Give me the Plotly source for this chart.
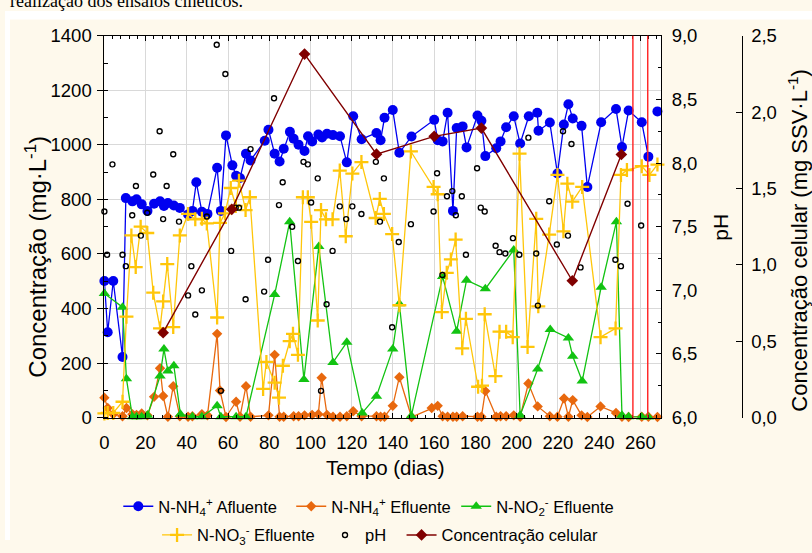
import plotly.graph_objects as go

# ---------------- data ----------------
dias_nh4_af = [0, 1.6, 4.3, 8.8, 10.4, 13.6, 15.6, 18.1, 20.9, 24.1, 27.0, 28.9, 30.8, 33.7, 36.6,
               40.6, 42.7, 44.6, 47.3, 50.0, 54.7, 56.5, 59.0, 62.1, 63.9, 65.8, 68.7, 70.9, 77.8,
               79.6, 82.6, 85.0, 87.0, 90.0, 91.8, 94.2, 97.1, 98.8, 100.8, 103.8, 105.6, 108.0,
               110.9, 114.3, 117.6, 120.7, 124.8, 132.0, 134.0, 135.9, 139.9, 143.1, 149.0, 160.0,
               161.7, 164.1, 166.5, 169.1, 170.9, 173.8, 175.7, 181.0, 182.9, 184.8, 190.1, 192.2,
               194.9, 198.6, 201.7, 205.9, 210.0, 210.6, 216.1, 219.8, 222.9, 225.1, 227.2, 231.5,
               234.3, 241.0, 248.2, 251.1, 254.3, 260.7, 263.9, 266.0, 268.3]
nh4_afluente = [501, 313, 501, 222, 805, 793, 801, 782, 758, 784, 793, 776, 787, 778, 769,
                745, 758, 863, 755, 747, 916, 758, 1035, 925, 887, 879, 968, 943, 1015,
                1056, 968, 939, 986, 1048, 1023, 1001, 978, 1032, 1013, 1038, 1027, 1041,
                1036, 1032, 936, 1105, 1021, 1044, 1017, 1100, 1128, 971, 1031, 1092,
                1017, 1013, 1118, 758, 1062, 1068, 991, 1108, 1089, 959, 988, 1013,
                1065, 1105, 1005, 1105, 1118, 1052, 1082, 895, 1075, 1149, 1097, 1070,
                846, 1083, 1132, 992, 1126, 1083, 957, None, 1123]

dias_nh4_ef = [0, 1.6, 4.3, 8.8, 10.7, 13.6, 15.6, 18.1, 20.9, 24.1, 27.0, 28.5, 30.8, 33.4, 36.6,
               40.6, 42.7, 47.3, 50.0, 54.7, 56.1, 59.0, 63.9, 65.8, 68.7, 70.9, 79.6, 82.6, 85.0,
               87.0, 91.8, 94.2, 97.1, 100.8, 103.8, 105.4, 108.0, 110.9, 114.3, 117.6, 120.7,
               124.8, 132.0, 134.0, 135.9, 139.9, 143.1, 149.0, 158.8, 161.7, 164.1, 166.5, 169.1,
               170.9, 173.8, 181.0, 182.9, 184.8, 190.1, 192.2, 194.9, 198.6, 201.7, 205.7, 210.2,
               216.1, 219.8, 223.0, 225.1, 227.2, 231.5, 234.3, 240.7, 248.2, 251.1, 254.3, 260.7,
               263.9, 268.3]
nh4_efluente = [73, 35, 12, 5, 35, 12, 10, 15, 8, 76, 181, 79, 3, 115, 5,
                3, 5, 12, 8, 307, 99, 2, 58, 3, 115, 3, 8, 230, 3,
                3, 5, 5, 8, 10, 12, 146, 10, 3, 3, 5, 23,
                5, 5, 3, 3, 43, 148, 2, 35, 43, 5, 3, 3,
                3, 5, 3, 3, 97, 3, 5, 5, 8, 3, 125, 41,
                5, 3, 70, 3, 64, 8, 2, 41, 17, 3, 2, 3,
                3, 2]

dias_no2 = [0, 8.8, 10.7, 13.6, 15.6, 18.1, 20.9, 27.0, 28.9, 30.8, 33.7, 36.9, 42.7, 47.3, 54.7,
            56.5, 63.9, 68.7, 82.6, 89.9, 96.8, 104.0, 110.9, 117.6, 125.1, 132.0, 139.9, 143.1,
            148.9, 164.1, 170.9, 175.7, 184.8, 198.6, 201.7, 210.2, 216.3, 225.1, 227.2, 231.8,
            241.0, 248.4, 251.1, 254.3, 260.7, 263.9]
no2_efluente = [455, 405, 142, 3, 3, 3, 8, 152, 251, 171, 190, 12, 3, 3, 43,
                3, 3, 3, 451, 718, 140, 627, 202, 276, 17, 78, 251, 417,
                6, 517, 317, 504, 472, 615, 8, 178, 323, 292, 225, 134,
                478, 718, 8, 3, 2, 2]

dias_no3 = [0, 1.6, 4.3, 8.8, 10.7, 13.1, 15.2, 17.6, 20.8, 23.7, 27.0, 28.5, 30.5, 33.4, 36.6,
            40.6, 44.1, 47.3, 49.7, 54.7, 56.1, 58.5, 61.3, 63.7, 65.3, 68.5, 70.6, 77.0, 78.6,
            82.6, 84.7, 86.6, 89.9, 91.5, 93.9, 96.3, 98.7, 100.3, 103.5, 105.1, 107.5, 110.7,
            114.2, 117.1, 120.3, 124.7, 131.6, 133.6, 135.6, 139.6, 143.1, 148.7, 159.7, 161.7,
            163.7, 166.1, 168.1, 170.4, 173.6, 175.4, 181.3, 183.2, 184.5, 189.7, 191.7, 194.9,
            198.1, 201.4, 205.3, 209.5, 210.5, 215.8, 219.8, 222.7, 224.6, 227.0, 231.8, 240.7,
            248.0, 250.6, 253.5, 260.7, 264.4, 268.3]
no3_efluente = [15, 17, 17, 58, 370, 668, 552, 700, 677, 458, 327, 426, 563, 332, 668,
                747, 727, 729, 712, 367, 714, 749, 842, 776, 869, 761, 808, 105, 204,
                128, 73, 190, 280, 307, 230, 808, 808, 718, 356, 761, 727, 727,
                906, 665, 895, 937, 732, 802, 747, 673, 412, 976, 846, 819,
                387, 531, 580, 653, 254, 362, 113, 117, 379, 152, 315, 315,
                295, 968, 259, 729, 408, 671, 890, 683, 858, 792, 846, 295,
                327, 890, 908, 922, 890, 928]

dias_ph = [0, 1.3, 3.9, 8.8, 10.4, 13.5, 15.3, 17.7, 20.8, 23.7, 26.8, 28.5, 30.2, 33.4, 36.2,
           40.6, 42.2, 44.1, 47.3, 49.7, 54.5, 56.5, 58.7, 61.5, 63.7, 65.3, 68.5, 70.9, 77.5,
           79.4, 82.3, 84.7, 86.5, 91.1, 93.9, 96.6, 98.7, 100.3, 103.5, 105.1, 107.8, 110.7,
           114.2, 117.3, 120.3, 124.7, 131.7, 133.7, 135.6, 139.6, 142.8, 148.7, 159.7, 161.4,
           164.0, 166.2, 168.8, 170.5, 173.4, 175.4, 180.8, 182.6, 184.5, 189.8, 191.7, 194.5,
           198.2, 201.3, 205.7, 209.5, 210.3, 215.8, 219.5, 222.5, 224.9, 226.6, 231.0, 247.9,
           250.6, 253.8, 260.4]
ph = [7.62, 7.28, 7.99, 7.28, 7.19, 7.59, 7.82, 7.43, 7.61, 7.91, 8.25, 7.56, 7.82, 8.07, 7.54,
      6.96, 7.19, 6.81, 7.00, 7.58, 8.93, 6.21, 8.70, 7.31, 7.65, 7.65, 6.93, 8.11, 6.99,
      7.24, 8.51, 7.67, 7.85, 7.50, 7.23, 8.01, 7.99, 7.69, 7.88, 6.21, 6.89, 7.31,
      7.66, 7.56, 7.66, 7.60, 8.01, 7.54, 7.88, 6.71, 7.38, 7.52, 7.62, 7.92,
      7.12, 7.74, 7.78, 7.59, 7.74, 7.28, 7.96, 7.65, 7.62, 7.35, 7.30, 7.29,
      7.41, 7.28, 8.20, 7.29, 6.88, 7.70, 7.36, 8.25, 7.43, 8.15, 7.18, 7.24,
      7.19, 7.68, 7.51]

dias_cel = [28.5, 61.8, 97.1, 132.0, 160.0, 182.9, 227.0, 250.8]
conc_celular = [0.556, 1.364, 2.381, 1.725, 1.842, 1.896, 0.896, 1.723]

dias_ensaios = [256.4, 263.6]

x_ticks = list(range(0, 261, 20))

# ---------------- figure ----------------
W, H = 812, 553
X0, X1 = 100, 660        # plot area px
YT, YB = 26, 425
AX3 = 742

def px(x):
    return x / W

def py(y):
    return (H - y) / H

FONT = "Liberation Sans, Arial, sans-serif"
fig = go.Figure()

fig.add_trace(go.Scatter(
    x=dias_nh4_af, y=nh4_afluente, mode="lines+markers", name="N-NH<sub>4</sub><sup>+</sup> Afluente",
    line=dict(color="#0000F0", width=1.3), marker=dict(symbol="circle", size=10, color="#0000F0"),
    connectgaps=False, cliponaxis=False, legend="legend"))
fig.add_trace(go.Scatter(
    x=dias_nh4_ef, y=nh4_efluente, mode="lines+markers", name="N-NH<sub>4</sub><sup>+</sup> Efluente",
    line=dict(color="#E8680E", width=1.3), marker=dict(symbol="diamond", size=8, color="#E8680E"),
    cliponaxis=False, legend="legend2"))
fig.add_trace(go.Scatter(
    x=dias_no2, y=no2_efluente, mode="lines+markers", name="N-NO<sub>2</sub><sup>-</sup> Efluente",
    line=dict(color="#12C312", width=1.3), marker=dict(symbol="triangle-up", size=10, color="#12C312"),
    cliponaxis=False, legend="legend3"))
fig.add_trace(go.Scatter(
    x=dias_no3, y=no3_efluente, mode="lines+markers", name="N-NO<sub>3</sub><sup>-</sup> Efluente",
    line=dict(color="#FFC60A", width=1.3),
    marker=dict(symbol="cross-thin", size=10, color="#FFC60A", line=dict(color="#FFC60A", width=2.3)),
    cliponaxis=False, legend="legend4"))
fig.add_trace(go.Scatter(
    x=dias_ph, y=ph, mode="markers", name="pH", yaxis="y2",
    marker=dict(symbol="circle-open", size=5, color="black", line=dict(color="black", width=1.4)),
    cliponaxis=False, legend="legend5"))
fig.add_trace(go.Scatter(
    x=dias_cel, y=conc_celular, mode="lines+markers", name="Concentração celular", yaxis="y3",
    line=dict(color="#800000", width=1.4), marker=dict(symbol="diamond", size=9, color="#800000"),
    cliponaxis=False, legend="legend6"))

shapes = [
    dict(type="rect", xref="paper", yref="paper", x0=0, x1=1, y0=py(9), y1=1,
         fillcolor="white", line=dict(width=0), layer="below"),
    dict(type="rect", xref="paper", yref="paper", x0=0, x1=px(5), y0=0, y1=1,
         fillcolor="white", line=dict(width=0), layer="below"),
]
for d in dias_ensaios:
    shapes.append(dict(type="line", xref="x", yref="paper", x0=d, x1=d, y0=py(YB), y1=py(YT),
                       line=dict(color="#FF2020", width=1.4)))

grid = "#D9D9D9"
axis_common = dict(showline=True, linecolor="black", linewidth=1, tickcolor="black",
                   zeroline=False, tickfont=dict(family=FONT, size=18.5, color="black"))

leg_common = dict(orientation="h", xanchor="left", yanchor="middle", bgcolor="rgba(0,0,0,0)",
                  borderwidth=0, font=dict(family=FONT, size=16.5, color="black"))
legs = {}
for key, (xs, ys) in zip(["legend", "legend2", "legend3", "legend4", "legend5", "legend6"],
                         [(114, 518), (288, 518), (454, 518), (153, 548), (322, 548), (399, 548)]):
    legs[key] = dict(leg_common, x=px(xs), y=py(ys))

fig.update_layout(
    width=W, height=H, autosize=False,
    margin=dict(l=0, r=0, t=0, b=0),
    paper_bgcolor="#FEF9EC", plot_bgcolor="white",
    separators=",.",
    font=dict(family=FONT, size=18, color="black"),
    xaxis=dict(axis_common, domain=[px(X0), px(X1)], range=[0, 270], tickvals=x_ticks,
               showgrid=True, gridcolor=grid, gridwidth=1,
               ticks="inside", ticklen=5, mirror="ticks", ticklabelstandoff=8,
               minor=dict(dtick=4, tick0=0, ticks="inside", ticklen=3, tickcolor="black", showgrid=False)),
    yaxis=dict(axis_common, domain=[py(YB), py(YT)], range=[0, 1400], dtick=200,
               showgrid=True, gridcolor=grid, gridwidth=1,
               ticks="outside", ticklen=6, ticklabelstandoff=2,
               minor=dict(dtick=100, ticks="inside", ticklen=4, tickcolor="black", showgrid=False)),
    yaxis2=dict(axis_common, overlaying="y", side="right", anchor="x", range=[6, 9], dtick=0.5,
                tickformat=".1f", showgrid=False, ticks="inside", ticklen=5, ticklabelstandoff=6,
                minor=dict(dtick=0.25, ticks="inside", ticklen=3, tickcolor="black")),
    yaxis3=dict(axis_common, overlaying="y", side="right", anchor="free", position=px(AX3),
                range=[0, 2.5], dtick=0.5, tickformat=".1f", showgrid=False,
                ticks="inside", ticklen=6, ticklabelstandoff=4),
    shapes=shapes,
    showlegend=True,
    **legs,
    annotations=[
        dict(text="realização dos ensaios cinéticos.", xref="paper", yref="paper",
             x=px(3), y=py(2), xanchor="left", yanchor="bottom", showarrow=False,
             font=dict(family="Liberation Serif, Times New Roman, serif", size=18, color="black")),
        dict(text="Tempo (dias)", xref="paper", yref="paper", x=px(383), y=py(477),
             xanchor="center", yanchor="middle", showarrow=False,
             font=dict(family=FONT, size=20.5, color="black")),
        dict(text="Concentração (mg·L<sup>-1</sup>)", xref="paper", yref="paper", x=px(31), y=py(257),
             xanchor="center", yanchor="middle", textangle=-90, showarrow=False,
             font=dict(family=FONT, size=24, color="black")),
        dict(text="pH", xref="paper", yref="paper", x=px(720), y=py(226),
             xanchor="center", yanchor="middle", textangle=-90, showarrow=False,
             font=dict(family=FONT, size=21, color="black")),
        dict(text="Concentração celular (mg SSV·L<sup>-1</sup>)", xref="paper", yref="paper",
             x=px(797), y=py(240), xanchor="center", yanchor="middle", textangle=-90,
             showarrow=False, font=dict(family=FONT, size=22, color="black")),
    ],
)

fig.write_html("out.html")
